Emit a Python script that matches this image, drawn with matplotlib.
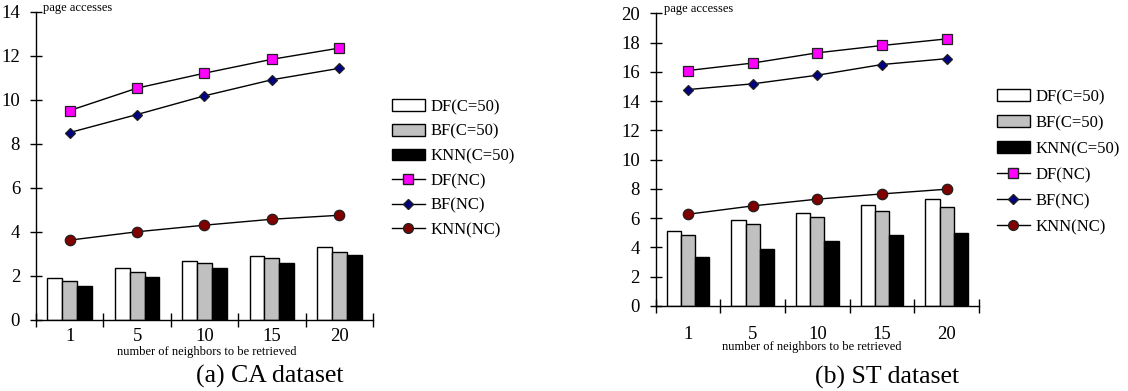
import numpy as np
import matplotlib
matplotlib.use("Agg")
import matplotlib.pyplot as plt
from matplotlib.lines import Line2D
from matplotlib.patches import Patch

plt.rcParams['font.family'] = ['Liberation Serif', 'DejaVu Serif']

# data
k_labels = ['1', '5', '10', '15', '20']

ca_df_c50 = [1.90, 2.35, 2.66, 2.93, 3.31]
ca_bf_c50 = [1.79, 2.20, 2.57, 2.82, 3.10]
ca_knn_c50 = [1.54, 1.94, 2.36, 2.61, 2.94]
ca_df_nc = [9.52, 10.54, 11.22, 11.85, 12.36]
ca_bf_nc = [8.52, 9.34, 10.19, 10.92, 11.44]
ca_knn_nc = [3.63, 4.01, 4.31, 4.58, 4.76]

st_df_c50 = [5.13, 5.90, 6.38, 6.91, 7.32]
st_bf_c50 = [4.83, 5.63, 6.09, 6.52, 6.79]
st_knn_c50 = [3.37, 3.92, 4.45, 4.83, 5.00]
st_df_nc = [16.09, 16.60, 17.30, 17.80, 18.25]
st_bf_nc = [14.79, 15.18, 15.77, 16.50, 16.90]
st_knn_nc = [6.27, 6.84, 7.30, 7.66, 7.98]

W, H = 1128, 391
fig = plt.figure(figsize=(W / 100, H / 100), dpi=100)


def px_rect(x0, x1, y_top, y_bot):
    return [x0 / W, 1 - y_bot / H, (x1 - x0) / W, (y_bot - y_top) / H]


def draw_panel(ax, bars, lines, ymax, xpad):
    x = np.arange(len(k_labels))
    bw = 0.22
    fills = ['white', '#c0c0c0', 'black']
    for i, (vals, fc) in enumerate(zip(bars, fills)):
        ax.bar(x + (i - 1) * bw, vals, bw, color=fc, edgecolor='black', linewidth=1.0, zorder=2)
    styles = [('s', '#ff00ff'), ('D', '#000080'), ('o', '#800000')]
    for vals, (m, c) in zip(lines, styles):
        ms = 7.5 if m != 'D' else 5.5
        ax.plot(x, vals, color='black', lw=1.0, marker=m, ms=ms, mfc=c, mec='#202020', mew=0.9, zorder=3)
    ax.set_xlim(-0.5, len(k_labels) - 0.5)
    ax.set_ylim(0, ymax)
    ax.set_yticks(np.arange(0, ymax + 1, 2))
    ax.set_xticks(np.arange(-0.5, len(k_labels), 1.0))
    ax.set_xticklabels([])
    ax.set_xticks(x, minor=True)
    ax.set_xticklabels(k_labels, minor=True)
    ax.tick_params(axis='x', which='major', direction='inout', length=10, width=1)
    ax.tick_params(axis='x', which='minor', length=0, pad=xpad, labelsize=13.5)
    ax.tick_params(axis='y', direction='inout', length=9, width=1, labelsize=13.5, pad=7, colors='black')
    for s in ['top', 'right']:
        ax.spines[s].set_visible(False)
    for s in ['left', 'bottom']:
        ax.spines[s].set_linewidth(1.0)


ax1 = fig.add_axes(px_rect(36, 373, 12, 320))
draw_panel(ax1, [ca_df_c50, ca_bf_c50, ca_knn_c50], [ca_df_nc, ca_bf_nc, ca_knn_nc], 14, 5.5)

ax2 = fig.add_axes(px_rect(655.7, 979, 13.3, 306))
draw_panel(ax2, [st_df_c50, st_bf_c50, st_knn_c50], [st_df_nc, st_bf_nc, st_knn_nc], 20, 14.5)

fig.text(43 / W, 1 - 8 / H, 'page accesses', fontsize=9, va='center', ha='left')
fig.text(664 / W, 1 - 9 / H, 'page accesses', fontsize=9, va='center', ha='left')
fig.text(206.7 / W, 1 - 352 / H, 'number of neighbors to be retrieved', fontsize=9, va='center', ha='center')
fig.text(811.5 / W, 1 - 347 / H, 'number of neighbors to be retrieved', fontsize=9, va='center', ha='center')
fig.text(270 / W, 1 - 376 / H, '(a) CA dataset', fontsize=18.5, va='center', ha='center')
fig.text(886.7 / W, 1 - 377 / H, '(b) ST dataset', fontsize=18.5, va='center', ha='center')

handles = [
    Patch(facecolor='white', edgecolor='black', lw=1.0),
    Patch(facecolor='#c0c0c0', edgecolor='black', lw=1.0),
    Patch(facecolor='black', edgecolor='black', lw=1.0),
    Line2D([], [], color='black', lw=1.0, marker='s', ms=7, mfc='#ff00ff', mec='#202020'),
    Line2D([], [], color='black', lw=1.0, marker='D', ms=5.5, mfc='#000080', mec='#202020'),
    Line2D([], [], color='black', lw=1.0, marker='o', ms=7, mfc='#800000', mec='#202020'),
]
names = ['DF(C=50)', 'BF(C=50)', 'KNN(C=50)', 'DF(NC)', 'BF(NC)', 'KNN(NC)']

for lx, ly, sp in [(391.7, 99, 0.52), (996.7, 89, 0.6)]:
    fig.legend(handles, names, loc='upper left', bbox_to_anchor=(lx / W, 1 - ly / H),
               frameon=False, fontsize=12, handlelength=2.0, handleheight=0.7,
               handletextpad=0.3, labelspacing=sp, borderpad=0, borderaxespad=0)

fig.savefig('out.png', dpi=100)
